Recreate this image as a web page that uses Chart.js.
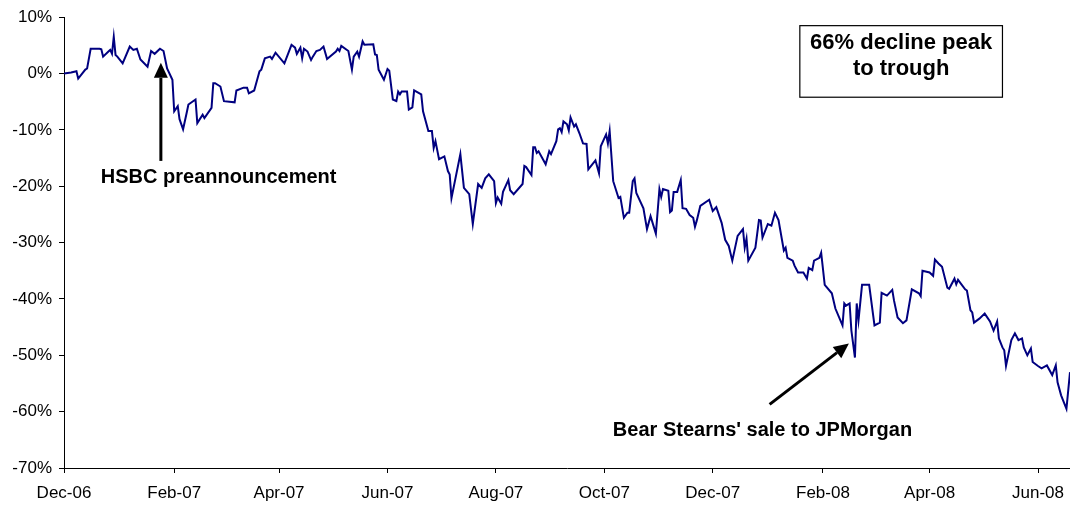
<!DOCTYPE html>
<html>
<head>
<meta charset="utf-8">
<script src="https://cdn.jsdelivr.net/npm/chart.js@4"></script>
<style>
  html, body { margin: 0; padding: 0; background: #fff; }
  #wrap { width: 1070px; height: 508px; }
</style>
</head>
<body>
<div id="wrap"><canvas id="myChart"></canvas></div>
<script>
// share price change since 1 Dec 2006, x = days after 1 Dec 2006

const tickDays = [0, 62, 121, 182, 243, 304, 365, 427, 487, 548]
const tickLabels = ['Dec-06', 'Feb-07', 'Apr-07', 'Jun-07', 'Aug-07', 'Oct-07', 'Dec-07', 'Feb-08', 'Apr-08', 'Jun-08']

const tradeDays = [
    0, 4, 7, 8, 12, 13, 15, 20, 21, 22, 25, 26, 27, 28, 29, 30, 33, 37, 39, 41,
    43, 47, 49, 51, 54, 56, 58, 61, 62, 64, 65, 67, 69, 70, 74, 75, 78, 79, 83, 84,
    85, 88, 90, 96, 97, 101, 103, 104, 107, 110, 111, 113, 116, 117, 119, 124, 128, 130, 131, 133,
    134, 135, 137, 139, 140, 142, 144, 146, 148, 153, 154, 155, 156, 160, 162, 163, 165, 166, 168, 169,
    174, 175, 176, 177, 180, 182, 183, 185, 187, 188, 189, 190, 193, 194, 196, 197, 201, 202, 205, 207,
    208, 209, 211, 214, 216, 217, 218, 223, 225, 228, 230, 233, 235, 237, 239, 242, 243, 244, 246, 247,
    250, 251, 253, 258, 259, 260, 263, 264, 265, 266, 267, 271, 273, 274, 277, 278, 279, 280, 281, 283,
    284, 285, 287, 288, 290, 292, 294, 295, 299, 301, 302, 305, 306, 307, 309, 312, 313, 315, 317, 318,
    320, 321, 322, 326, 328, 330, 333, 335, 336, 337, 340, 341, 342, 343, 345, 347, 348, 350, 352, 354,
    355, 356, 358, 363, 365, 367, 370, 372, 374, 376, 379, 382, 383, 384, 385, 389, 391, 392, 393, 396,
    398, 400, 402, 405, 406, 407, 410, 411, 413, 416, 418, 419, 421, 422, 425, 426, 428, 432, 434, 438,
    439, 440, 442, 443, 445, 446, 447, 449, 453, 456, 459, 460, 463, 466, 467, 469, 472, 474, 477, 481,
    482, 483, 487, 489, 490, 492, 494, 497, 498, 501, 502, 503, 507, 508, 510, 511, 512, 515, 518, 521,
    523, 525, 526, 528, 529, 530, 533, 535, 537, 539, 540, 542, 544, 545, 548, 550, 553, 556, 558, 559,
    561, 564, 566
]

const pctChange = [
    0, 0.2, 0.4, -0.9, 0.7, 0.9, 4.4, 4.4, 4.3, 3.0, 3.9, 4.2, 3.5, 6.5, 3.3, 3.0, 1.8, 4.8, 4.2, 4.4,
    2.5, 1.2, 4.0, 3.5, 4.4, 4.0, 0.9, -1.1, -6.7, -5.8, -8.1, -9.9, -7.0, -5.5, -4.6, -8.8, -7.3, -7.9, -6.1, -1.7,
    -1.7, -2.3, -4.9, -5.1, -3.0, -2.5, -2.5, -3.5, -3.0, 0.4, 0.7, 2.7, 3.0, 2.6, 3.7, 1.8, 5.1, 4.6, 3.5, 4.6,
    2.7, 4.4, 3.9, 2.4, 3.0, 4.0, 4.2, 4.8, 2.6, 3.9, 4.4, 4.0, 4.9, 4.0, 0.7, 3.0, 3.9, 3.0, 5.7, 5.1,
    5.2, 3.4, 3.3, 0.7, -1.1, 0.8, 0.5, -4.6, -4.9, -3.2, -3.7, -3.2, -3.2, -6.4, -6.0, -3.0, -3.7, -6.7, -10.2, -10.2,
    -13.2, -12.0, -15.2, -14.7, -17.3, -17.9, -22.1, -14.3, -20.3, -21.4, -26.7, -19.6, -20.3, -18.6, -17.9, -19.1, -23.0, -22.0, -23.1, -21.0,
    -18.9, -20.7, -21.4, -19.6, -16.4, -16.6, -18.0, -13.1, -13.1, -14.1, -13.8, -16.1, -13.8, -14.3, -12.0, -9.9, -9.7, -10.4, -8.5, -9.0,
    -10.1, -7.8, -9.4, -9.0, -10.6, -12.4, -12.5, -17.0, -15.4, -17.7, -12.9, -10.8, -12.4, -10.2, -19.1, -22.1, -21.9, -25.6, -24.7, -24.7,
    -19.1, -18.6, -21.2, -23.9, -27.6, -25.3, -28.4, -20.5, -21.9, -20.5, -20.8, -24.6, -24.3, -21.0, -21.0, -18.9, -23.9, -24.0, -25.1, -25.6,
    -27.2, -26.1, -23.5, -22.4, -24.4, -23.7, -26.5, -29.5, -30.6, -33.2, -28.8, -27.6, -30.9, -29.3, -33.2, -30.9, -26.0, -26.1, -29.1, -26.7,
    -27.0, -24.7, -26.0, -31.4, -30.9, -32.7, -33.2, -34.1, -35.3, -35.3, -36.4, -34.5, -34.9, -33.2, -32.7, -31.8, -37.5, -39.0, -41.7, -44.7,
    -40.8, -41.2, -40.8, -45.6, -50.4, -40.8, -43.8, -37.5, -37.5, -44.7, -44.2, -38.9, -39.4, -38.4, -40.3, -43.3, -44.3, -43.8, -38.3, -39.0,
    -39.5, -35.0, -35.3, -35.9, -33.0, -33.7, -34.3, -38.0, -38.2, -36.4, -37.4, -36.6, -38.3, -38.5, -42.0, -42.4, -44.2, -43.5, -42.6, -44.0,
    -45.6, -44.0, -47.0, -48.6, -49.1, -51.9, -47.3, -46.1, -47.3, -47.0, -48.6, -50.0, -48.8, -51.2, -51.9, -52.3, -51.8, -53.5, -51.8, -54.8,
    -57.1, -59.5, -53.0
]

const FONT = '"Liberation Sans", Arial, sans-serif'

// arrow with a filled head at (x2, y2)
function drawArrow(ctx, x1, y1, x2, y2) {
    const ang = Math.atan2(y2 - y1, x2 - x1)
    const head = 15, half = 7
    const bx = x2 - head * Math.cos(ang), by = y2 - head * Math.sin(ang)
    ctx.save()
    ctx.strokeStyle = '#000'
    ctx.fillStyle = '#000'
    ctx.lineWidth = 3
    ctx.beginPath()
    ctx.moveTo(x1, y1)
    ctx.lineTo(bx, by)
    ctx.stroke()
    ctx.beginPath()
    ctx.moveTo(x2, y2)
    ctx.lineTo(bx + half * Math.sin(ang), by - half * Math.cos(ang))
    ctx.lineTo(bx - half * Math.sin(ang), by + half * Math.cos(ang))
    ctx.closePath()
    ctx.fill()
    ctx.restore()
}

// text notes, arrows and the boxed caption, placed in data units
const notes = {
    id: 'notes',
    afterDatasetsDraw(chart) {
        const ctx = chart.ctx
        const x = chart.scales.x, y = chart.scales.y
        const px = v => x.getPixelForValue(v), py = v => y.getPixelForValue(v)

        drawArrow(ctx, px(54.5), py(-15.5), px(54.5), py(1.9))
        drawArrow(ctx, px(397), py(-58.7), px(441.6), py(-47.9))

        ctx.save()
        ctx.fillStyle = '#000'
        ctx.textAlign = 'center'
        ctx.textBaseline = 'alphabetic'
        ctx.font = 'bold 20px ' + FONT
        ctx.fillText('HSBC preannouncement', px(87), py(-19.4))
        ctx.fillText("Bear Stearns' sale to JPMorgan", px(393), py(-64.3))

        const bl = px(414), br = px(528), bt = py(8.5), bb = py(-4.2)
        ctx.fillStyle = '#fff'
        ctx.fillRect(bl, bt, br - bl, bb - bt)
        ctx.strokeStyle = '#000'
        ctx.lineWidth = 1.2
        ctx.strokeRect(bl, bt, br - bl, bb - bt)
        ctx.fillStyle = '#000'
        ctx.font = 'bold 22px ' + FONT
        ctx.fillText('66% decline peak', px(471), py(4.4))
        ctx.fillText('to trough', px(471), py(-0.2))
        ctx.restore()
    }
}

const ctx = document.getElementById('myChart').getContext('2d')
const myChart = new Chart(ctx, {
    type: 'line',
    data: {
        datasets: [{
            label: 'Share price',
            data: tradeDays.map((d, i) => ({ x: d, y: pctChange[i] })),
            borderColor: '#000080',
            borderWidth: 2,
            pointRadius: 0,
            tension: 0,
            fill: false
        }]
    },
    options: {
        responsive: true,
        maintainAspectRatio: false,
        animation: false,
        layout: { padding: { top: 15, right: 0, left: 0, bottom: 0 } },
        plugins: {
            legend: { display: false },
            tooltip: { enabled: false }
        },
        scales: {
            x: {
                type: 'linear',
                min: 0,
                max: 566,
                afterBuildTicks: scale => { scale.ticks = tickDays.map(v => ({ value: v })) },
                afterFit: scale => {
                    scale.height = 40
                    scale.paddingLeft = 0
                    scale.paddingRight = 0
                },
                grid: { drawOnChartArea: false, drawTicks: true, tickLength: 5, color: '#000' },
                border: { color: '#000', width: 1 },
                ticks: {
                    autoSkip: false,
                    maxRotation: 0,
                    padding: 10,
                    color: '#000',
                    font: { family: FONT, size: 17 },
                    callback: (v, i) => tickLabels[i]
                }
            },
            y: {
                min: -70,
                max: 10,
                afterFit: scale => { scale.width = 64 },
                grid: { drawOnChartArea: false, drawTicks: true, tickLength: 5, color: '#000' },
                border: { color: '#000', width: 1 },
                ticks: {
                    stepSize: 10,
                    padding: 7,
                    color: '#000',
                    font: { family: FONT, size: 17 },
                    callback: v => v + '%'
                }
            }
        }
    },
    plugins: [notes]
})
</script>
</body>
</html>
